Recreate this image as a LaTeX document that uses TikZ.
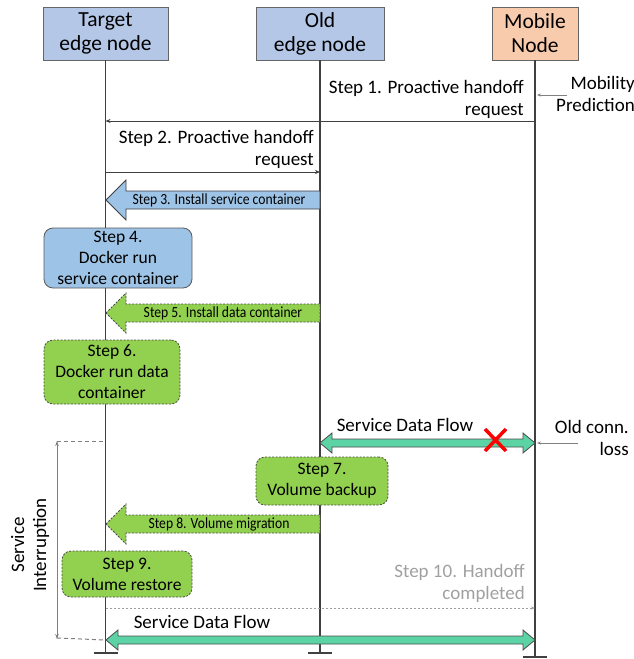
\documentclass[tikz,border=0pt]{standalone}
\usepackage{fontspec}
\setmainfont{Carlito}
\newfontfamily\condfont[FakeStretch=0.88]{Carlito}
\usetikzlibrary{arrows.meta}
\definecolor{hdrblue}{HTML}{B4C7E7}
\definecolor{hdrorange}{HTML}{F8CBAD}
\definecolor{stepblue}{HTML}{9DC3E6}
\definecolor{stepgreen}{HTML}{92D050}
\definecolor{flowteal}{HTML}{5CD3A5}
\definecolor{linegray}{HTML}{404040}
\definecolor{lightgray}{HTML}{A0A0A0}
\tikzset{
  hdr/.style={draw=gray!80!black, line width=0.8pt, align=center, font=\fontsize{21.5}{24}\selectfont, minimum height=53pt, inner sep=0pt},
  life/.style={draw=linegray, line width=1.2pt},
  msg/.style={draw=linegray, line width=0.7pt, -{Stealth[length=5pt,width=4pt]}},
  hint/.style={draw=gray, line width=0.6pt, -{Stealth[length=4pt,width=3pt]}},
  lbl/.style={font=\fontsize{19}{22}\selectfont, inner sep=0pt, align=right},
  bluebox/.style={draw=gray!70!black, fill=stepblue, rounded corners=9pt, line width=0.8pt, align=center, font=\fontsize{17.5}{21}\selectfont, inner sep=0pt},
  greenbox/.style={draw=black!70, dashed, dash pattern=on 2pt off 1.5pt, fill=stepgreen, rounded corners=9pt, line width=0.8pt, align=center, font=\fontsize{17.5}{21}\selectfont, inner sep=0pt},
  barrowtext/.style={font=\condfont\fontsize{15.5}{17}\selectfont, inner sep=0pt},
  bluearrow/.style={draw=linegray, fill=stepblue, line width=0.8pt},
  greenarrow/.style={draw=black!70, dash pattern=on 2pt off 1.5pt, fill=stepgreen, line width=0.8pt},
  tealarrow/.style={draw=gray!60!black, fill=flowteal, line width=0.8pt},
  interr/.style={draw=gray, line width=0.6pt},
  interrdash/.style={draw=gray, dashed, dash pattern=on 4pt off 3pt, line width=1pt}
}
% block arrow pointing left: tip x, right end x, centre y
\newcommand{\leftblock}[4]{%
  \path[#4] (#1,#3) -- (#1+20,#3-20) -- (#1+20,#3-9) -- (#2,#3-9) -- (#2,#3+9) -- (#1+20,#3+9) -- (#1+20,#3+20) -- cycle;}
% double-headed flow arrow
\newcommand{\flowarrow}[3]{%
  \path[tealarrow] (#1,#3) -- (#1+12,#3-10) -- (#1+12,#3-4) -- (#2-12,#3-4) -- (#2-12,#3-10) -- (#2,#3) -- (#2-12,#3+10) -- (#2-12,#3+4) -- (#1+12,#3+4) -- (#1+12,#3+10) -- cycle;}
\begin{document}
\begin{tikzpicture}[x=1pt,y=-1pt]
\useasboundingbox (0,0) rectangle (634,659);

% headers
\node[hdr, fill=hdrblue, minimum width=125pt] (T) at (105.5,33.5) {Target\\edge node};
\node[hdr, fill=hdrblue, minimum width=128pt] (O) at (320,33.5) {Old\\edge node};
\node[hdr, fill=hdrorange, minimum width=86pt] (M) at (535,33.5) {Mobile\\Node};

% lifelines
\coordinate (Te) at (105.5,653);
\coordinate (Oe) at (320,653);
\coordinate (Me) at (535,657);
\draw[life] (T.south) -- (Te);
\draw[life] (O.south) -- (Oe);
\draw[life] (M.south) -- (Me);
\draw[life] ([xshift=-12pt]Te) -- ([xshift=12pt]Te);
\draw[life] ([xshift=-12pt]Oe) -- ([xshift=12pt]Oe);
\draw[life] ([xshift=-12pt]Me) -- ([xshift=12pt]Me);

% step 1
\node[lbl, anchor=east] (s1) at (524,99) {Step 1. Proactive handoff\\request};
\node[lbl, anchor=east] (mp) at (635,94) {Mobility\\Prediction};
\coordinate (mpa) at (567,95);
\coordinate (mpb) at (537,95);
\draw[hint] (mpa) -- (mpb);
\coordinate (m1a) at (535,121);
\coordinate (m1b) at (105.5,121);
\draw[msg] (m1a) -- (m1b);

% step 2
\node[lbl, anchor=east] (s2) at (314,149) {Step 2. Proactive handoff\\request};
\coordinate (m2a) at (105.5,172);
\coordinate (m2b) at (320,172);
\draw[msg] (m2a) -- (m2b);

% step 3
\leftblock{106}{320}{200}{bluearrow}
\node[barrowtext] (s3) at (219,200) {Step 3. Install service container};

% step 4
\node[bluebox, minimum width=148pt, minimum height=60pt] (s4) at (118,258) {Step 4.\\Docker run\\service container};

% step 5
\leftblock{106}{320}{313}{greenarrow}
\node[barrowtext] (s5) at (223,313) {Step 5. Install data container};

% step 6
\node[greenbox, minimum width=136pt, minimum height=64pt] (s6) at (112,372) {Step 6.\\Docker run data\\container};

% old service data flow
\node[lbl, align=center] (sdf1) at (405,425) {Service Data Flow};
\flowarrow{320}{535}{443}
\draw[red, line width=3.5pt] (485,429) -- (506,451) (506,429) -- (485,451);
\node[lbl, anchor=east] (ol) at (629,438) {Old conn.\\loss};
\coordinate (ola) at (578,443);
\coordinate (olb) at (537,443);
\draw[hint] (ola) -- (olb);

% step 7
\node[greenbox, minimum width=132pt, minimum height=48pt] (s7) at (322,481) {Step 7.\\Volume backup};

% step 8
\leftblock{106}{320}{524}{greenarrow}
\node[barrowtext] (s8) at (219,524) {Step 8. Volume migration};

% step 9
\node[greenbox, minimum width=130pt, minimum height=46pt] (s9) at (127,574) {Step 9.\\Volume restore};

% step 10
\node[lbl, anchor=east, text=lightgray] (s10) at (525,583) {Step 10. Handoff\\completed};
\coordinate (m10a) at (105.5,608);
\coordinate (m10b) at (535,608);
\draw[draw=lightgray, dashed, dash pattern=on 2pt off 2pt, line width=0.7pt, -{Stealth[length=4pt,width=3pt]}] (m10a) -- (m10b);

% new service data flow
\node[lbl, align=center] (sdf2) at (202,622) {Service Data Flow};
\flowarrow{106}{535}{640}

% service interruption
\coordinate (ia) at (57,441);
\coordinate (ib) at (57,639);
\coordinate (ic) at (105.5,441);
\coordinate (id) at (105.5,640);
\draw[interrdash] (ia) -- (ic);
\draw[interrdash] ([yshift=1pt]ib) -- (id);
\draw[interr, {Stealth[length=5pt,width=3.5pt]}-{Stealth[length=5pt,width=3.5pt]}] (ia) -- (ib);
\node[lbl, align=center, rotate=90] (si) at (30,545) {Service\\Interruption};
\end{tikzpicture}
\end{document}
